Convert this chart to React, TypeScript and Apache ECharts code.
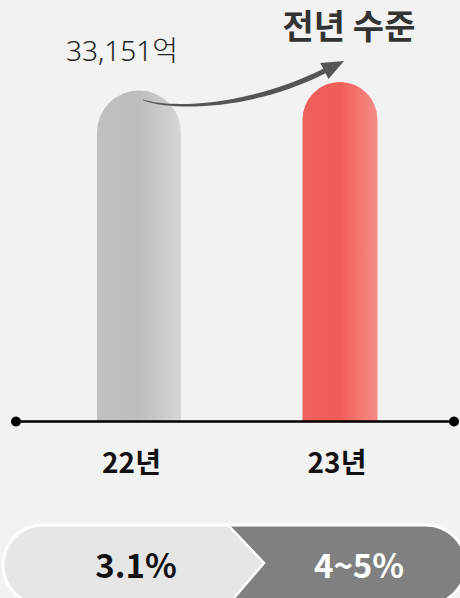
import React, { useEffect, useRef } from 'react';
import * as echarts from 'echarts';

const categories = ['22년', '23년'];
const values = [33151, 34000];
const barLabels = ['33,151억', '전년 수준'];
const growthRates = ['3.1%', '4~5%'];

const FONT = '"Noto Sans CJK KR", "Noto Sans", sans-serif';
const FONT_LIGHT = '"Noto Sans", "Noto Sans CJK KR", sans-serif';

const ARROW_D =
  'M143,99.6 C172,109 249,105.6 323.3,68.8 L320.3,63 L344,61 L328.5,79 L325.5,73.2 C251,111 172,111 143,100.4 Z';
echarts.graphic.registerShape('trendArrow', echarts.graphic.extendPath(ARROW_D, {}));

const grad = (a: string, b: string, c: string) =>
  new echarts.graphic.LinearGradient(0, 0, 1, 0, [
    { offset: 0, color: a },
    { offset: 0.5, color: b },
    { offset: 1, color: c },
  ]);

export default function App() {
  const ref = useRef<HTMLDivElement>(null);
  useEffect(() => {
    if (!ref.current) return;
    const chart = echarts.init(ref.current, undefined, { renderer: 'svg' });
    const pillY = 525;
    const pillH = 80;
    const chevX = 228;
    const chevTip = 264;
    chart.setOption({
      animation: false,
      backgroundColor: '#f2f2f2',
      grid: { left: 31.75, width: 411, top: 81, height: 340.5 },
      xAxis: {
        type: 'category',
        data: categories,
        axisLine: { show: false },
        axisTick: { show: false },
        axisLabel: {
          margin: 25,
          fontSize: 28,
          fontWeight: 'bold',
          color: '#111',
          fontFamily: FONT,
          padding: [0, 6, 0, 0],
        },
      },
      yAxis: { type: 'value', min: 0, max: 34100, show: false },
      series: [
        {
          type: 'bar',
          data: [values[0], '-'],
          barWidth: 84,
          barGap: '-100%',
          itemStyle: { color: grad('#c0c0c0', '#bdbdbd', '#d6d6d6'), borderRadius: [42, 42, 0, 0] },
          label: {
            show: true,
            position: 'top',
            formatter: (p: any) => barLabels[p.dataIndex],
            offset: [-17, -21],
            fontSize: 28,
            lineHeight: 28,
            fontWeight: 300,
            color: '#222',
            fontFamily: FONT_LIGHT,
          },
        },
        {
          type: 'bar',
          data: ['-', values[1]],
          barWidth: 75,
          barGap: '-100%',
          itemStyle: { color: grad('#ef615b', '#f15d56', '#f68d89'), borderRadius: [37.5, 37.5, 0, 0] },
          label: {
            show: true,
            position: 'top',
            formatter: (p: any) => barLabels[p.dataIndex],
            offset: [9, -35],
            fontSize: 34,
            lineHeight: 34,
            fontWeight: 'bold',
            color: '#333',
            fontFamily: FONT,
          },
        },
      ],
      graphic: [
        { type: 'trendArrow', x: 0, y: 0, z: 100, style: { fill: '#555' } },
        { type: 'line', z: 100, shape: { x1: 16, y1: 421.5, x2: 454, y2: 421.5 }, style: { stroke: '#000', lineWidth: 2.5 } },
        { type: 'circle', z: 100, shape: { cx: 16, cy: 421.5, r: 5 }, style: { fill: '#000' } },
        { type: 'circle', z: 100, shape: { cx: 454, cy: 421.5, r: 5 }, style: { fill: '#000' } },
        { type: 'rect', z: 100, shape: { x: 3, y: pillY, width: 463, height: pillH, r: 40 }, style: { fill: '#808080' } },
        { type: 'rect', z: 101, shape: { x: 3, y: pillY, width: chevX - 3 + 1, height: pillH, r: [40, 0, 0, 40] }, style: { fill: '#e6e6e6' } },
        {
          type: 'polygon', z: 101,
          shape: { points: [[chevX, pillY], [chevTip, pillY + pillH / 2 - 2], [chevX, pillY + pillH]] },
          style: { fill: '#e6e6e6' },
        },
        {
          type: 'polyline', z: 102,
          shape: { points: [[chevX, pillY], [chevTip, pillY + pillH / 2 - 2], [chevX, pillY + pillH]] },
          style: { stroke: '#fff', lineWidth: 2.5, fill: 'none' },
        },
        { type: 'rect', z: 103, shape: { x: 3, y: pillY, width: 463, height: pillH, r: 40 }, style: { fill: 'none', stroke: '#fff', lineWidth: 3 } },
        {
          type: 'text', z: 104, x: 136, y: 564,
          style: { text: growthRates[0], fontSize: 33, fontWeight: 'bold', fill: '#111', fontFamily: FONT, align: 'center', verticalAlign: 'middle' },
        },
        {
          type: 'text', z: 104, x: 359, y: 564,
          style: { text: growthRates[1], fontSize: 33, fontWeight: 'bold', fill: '#fff', fontFamily: FONT, align: 'center', verticalAlign: 'middle' },
        },
      ],
    });
    return () => chart.dispose();
  }, []);
  return <div ref={ref} style={{ position: 'fixed', left: 0, top: 0, width: 460, height: 598 }} />;
}
